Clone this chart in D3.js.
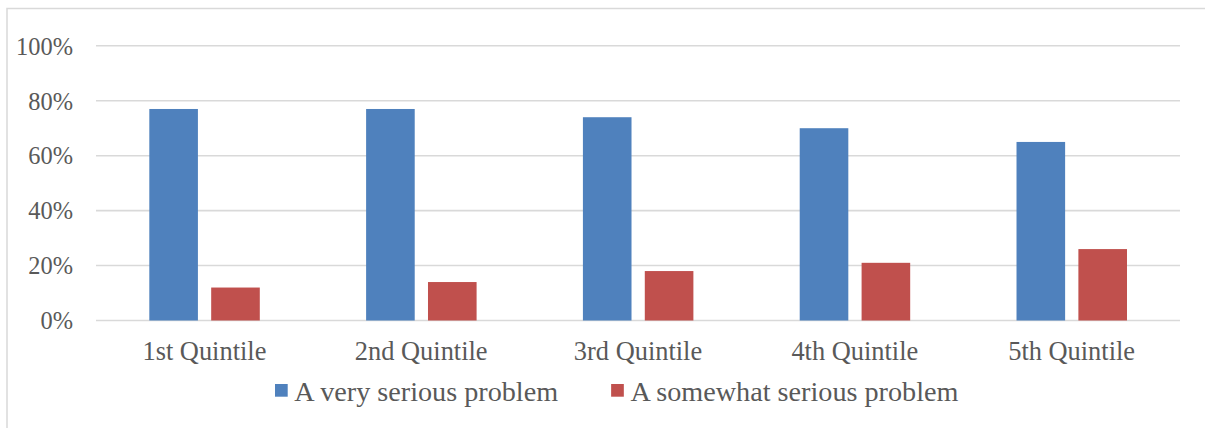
<!DOCTYPE html>
<html>
<head>
<meta charset="utf-8">
<script src="https://cdn.jsdelivr.net/npm/d3@7"></script>
<style>
  html, body { margin: 0; padding: 0; background: #fff; }
  svg { display: block; }
  text { font-family: "Liberation Serif", "Times New Roman", serif; fill: #595959; }
</style>
</head>
<body>
<svg id="chart" width="1205" height="428"></svg>
<script>
// Share of respondents by income quintile
const categories = ["1st Quintile", "2nd Quintile", "3rd Quintile", "4th Quintile", "5th Quintile"];
const seriesNames = ["A very serious problem", "A somewhat serious problem"];
const verySerious = [77, 77, 74, 70, 65];
const somewhatSerious = [12, 14, 18, 21, 26];
const tickValues = [0, 20, 40, 60, 80, 100];
const colors = ["#4F81BD", "#C0504D"];

const seriesValues = [verySerious, somewhatSerious];

const svg = d3.select("#chart");
const W = 1205, H = 428;
const plot = { left: 96, right: 1180, top: 45.8, bottom: 320.5 };
const serif = '"Liberation Serif", "Times New Roman", serif';

// chart area frame (only top and left edges fall inside the canvas)
svg.append("rect")
  .attr("x", 7).attr("y", 8.5)
  .attr("width", W + 20).attr("height", H + 20)
  .attr("fill", "#fff")
  .attr("stroke", "#d9d9d9").attr("stroke-width", 1.5);

const x = d3.scaleBand().domain(categories).range([plot.left, plot.right]).paddingInner(0).paddingOuter(0);
const bw = x.bandwidth();
const xInner = d3.scaleBand().domain(seriesNames)
  .range([bw * 0.2459, bw * 0.7555]).paddingInner(0.2145).paddingOuter(0);
const y = d3.scaleLinear().domain([0, 100]).range([plot.bottom, plot.top]);

// gridlines
svg.append("g").selectAll("line").data(tickValues).join("line")
  .attr("x1", plot.left).attr("x2", plot.right)
  .attr("y1", d => y(d)).attr("y2", d => y(d))
  .attr("stroke", "#d9d9d9").attr("stroke-width", 1.6);

// y axis labels
const yAxis = d3.axisLeft(y).tickValues(tickValues).tickFormat(d => d + "%").tickSize(0).tickPadding(0);
const gy = svg.append("g").attr("transform", "translate(73,0)").call(yAxis);
gy.select(".domain").remove();
gy.selectAll("text").attr("font-size", 24.4).attr("dy", "0.34em")
  .style("font-family", serif).attr("fill", "#595959");

// bars
const groups = svg.append("g").selectAll("g").data(categories).join("g")
  .attr("transform", d => `translate(${x(d)},0)`);
groups.selectAll("rect")
  .data((c, i) => seriesNames.map((s, k) => ({ s, k, v: seriesValues[k][i] })))
  .join("rect")
  .attr("x", d => xInner(d.s))
  .attr("width", xInner.bandwidth())
  .attr("y", d => y(d.v))
  .attr("height", d => y(0) - y(d.v))
  .attr("fill", d => colors[d.k]);

// category labels
const xAxis = d3.axisBottom(x).tickSize(0).tickPadding(0);
const gx = svg.append("g").attr("transform", "translate(0,360)").call(xAxis);
gx.select(".domain").remove();
gx.selectAll("text").attr("font-size", 26.4).attr("dy", 0).attr("y", 0)
  .style("font-family", serif).attr("fill", "#595959");

// legend
const legend = svg.append("g");
let lx = 275;
seriesNames.forEach((name, k) => {
  legend.append("rect").attr("x", lx).attr("y", 384).attr("width", 12.7).attr("height", 12.7).attr("fill", colors[k]);
  const t = legend.append("text").attr("x", lx + 19.3).attr("y", 400.5)
    .attr("font-size", 28.2).text(name);
  lx = lx + 19.3 + t.node().getComputedTextLength() + 53;
});
</script>
</body>
</html>
